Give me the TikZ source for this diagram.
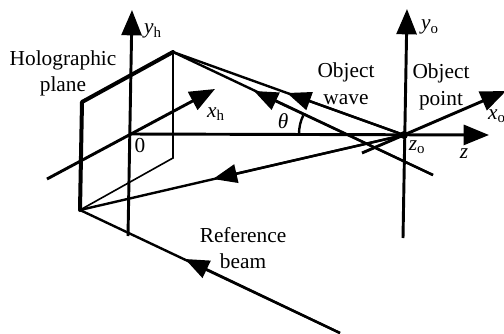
\documentclass[tikz,border=0pt]{standalone}
\usepackage{fontspec}
\setmainfont{Liberation Serif}
\usetikzlibrary{arrows.meta}
\tikzset{
  axis/.style={line width=2.2pt,-{Triangle[length=19pt,width=15pt]}},
  ray/.style={line width=1.8pt},
  rayhead/.style={line width=1.8pt,-{Triangle[length=18pt,width=14pt]}},
  edgethick/.style={line width=3pt,line cap=round,line join=round},
  edgethin/.style={line width=1.2pt},
  lbl/.style={font=\fontsize{16}{20}\selectfont,align=center,inner sep=0pt},
  sublbl/.style={font=\fontsize{16}{20}\selectfont\itshape,inner sep=0pt}
}
\newcommand{\subup}[1]{\textsubscript{\normalfont #1}}
\begin{document}
\begin{tikzpicture}[x=0.75pt,y=-0.75pt]
\clip (0,0) rectangle (504,333);
% holographic plane
\coordinate (hTL) at (82,102);
\coordinate (hTR) at (173,52);
\coordinate (hBR) at (173,158);
\coordinate (hBL) at (80,210);
\draw[edgethin] (hTR) -- (hBR) -- (hBL);
\draw[edgethick] (hBL) -- (hTL) -- (hTR);
% axes
\coordinate (orig) at (130,134);
\coordinate (yhS) at (128,236);
\coordinate (yhT) at (132,10);
\coordinate (xhS) at (47,179);
\coordinate (xhT) at (215,89);
\coordinate (zT) at (489,135);
\coordinate (yoS) at (403,238);
\coordinate (yoT) at (407,9);
\coordinate (xoS) at (362,153);
\coordinate (xoT) at (506,91);
\node[circle,fill=black,inner sep=0pt,minimum size=6pt] (obj) at (404,135) {};
\draw[axis] (yhS) -- (yhT);
\draw[axis] (xhS) -- (xhT);
\draw[axis] (orig) -- (zT);
\draw[axis] (yoS) -- (yoT);
\draw[axis] (xoS) -- (xoT);
% object wave
\coordinate (w1) at (287,93);
\coordinate (w2) at (254,91);
\coordinate (w2e) at (433,175);
\draw[ray] (hTR) -- (obj.center);
\draw[rayhead] (obj.center) -- (w1);
\draw[ray] (hTR) -- (w2e);
\draw[rayhead] (w2e) -- (w2);
% reference beam
\coordinate (r1) at (213,179);
\coordinate (r2) at (185,259);
\coordinate (r2e) at (340,333);
\draw[ray] (obj.center) -- (hBL);
\draw[rayhead] (obj.center) -- (r1);
\draw[ray] (hBL) -- (r2e);
\draw[rayhead] (r2e) -- (r2);
% angle
\draw[ray] (299,134) arc[start angle=180,end angle=205.6,radius=43];
% labels
\node[lbl] (holo) at (63,73.5) {Holographic\\plane};
\node[lbl] (owave) at (346,84) {Object\\wave};
\node[lbl] (opoint) at (441,87) {Object\\point};
\node[lbl] (refb) at (243,248) {Reference\\beam};
\node[lbl] (zero) at (140,146) {0};
\node[sublbl] (lyh) at (153,31) {y\subup{h}};
\node[sublbl] (lxh) at (216,114) {x\subup{h}};
\node[sublbl] (lyo) at (430,27) {y\subup{o}};
\node[sublbl] (lxo) at (497,116) {x\subup{o}};
\node[sublbl] (lzo) at (417,147) {z\subup{o}};
\node[sublbl] (lz) at (464,154) {z};
\node[sublbl] (lth) at (283,121) {θ};
\end{tikzpicture}
\end{document}
